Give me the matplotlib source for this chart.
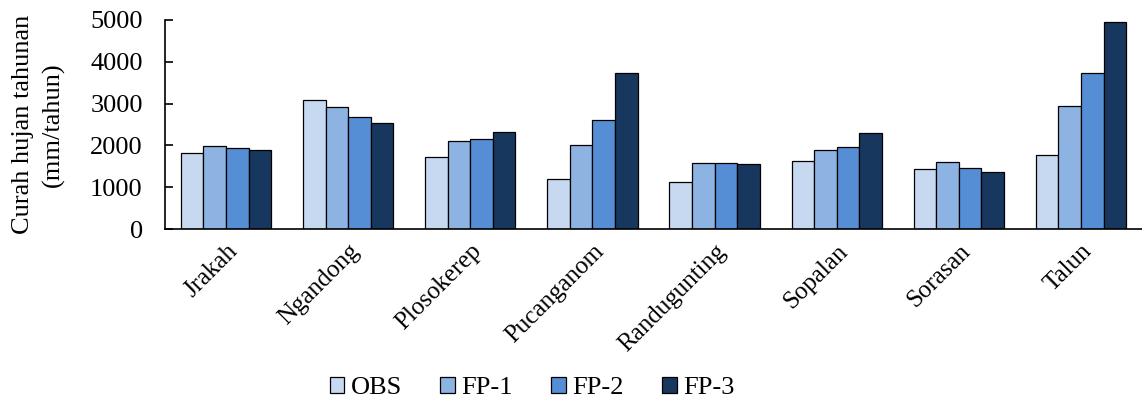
import numpy as np
import matplotlib.pyplot as plt

stations = ["Jrakah", "Ngandong", "Plosokerep", "Pucanganom",
            "Randugunting", "Sopalan", "Sorasan", "Talun"]
obs = [1810, 3080, 1715, 1205, 1115, 1620, 1435, 1780]
fp1 = [1985, 2910, 2115, 2000, 1570, 1880, 1610, 2945]
fp2 = [1930, 2680, 2145, 2610, 1585, 1955, 1450, 3725]
fp3 = [1895, 2545, 2320, 3730, 1545, 2290, 1365, 4945]
series_names = ["OBS", "FP-1", "FP-2", "FP-3"]
colors = ["#C6D9F1", "#8DB3E2", "#558ED5", "#17375E"]

plt.rcParams["font.family"] = ["Liberation Serif", "DejaVu Serif"]

fig = plt.figure(figsize=(11.42, 4.03), dpi=100)
ax = fig.add_axes([165 / 1142, 1 - 229 / 403, 977 / 1142, 209 / 403])

x = np.arange(len(stations))
w = 0.185
for i, (vals, name) in enumerate(zip([obs, fp1, fp2, fp3], series_names)):
    ax.bar(x + (i - 1.5) * w, vals, w, color=colors[i], edgecolor="black",
           linewidth=0.9, label=name)

ax.set_xlim(-0.5, len(stations) - 0.5)
ax.set_ylim(0, 5000)
ax.set_yticks(range(0, 5001, 1000))
ax.set_xticks(x)
ax.set_xticklabels(stations, rotation=45, ha="right", rotation_mode="anchor",
                   fontsize=18)
ax.tick_params(axis="x", length=0, pad=8)
ax.tick_params(axis="y", labelsize=19, length=6, width=1.2, direction="in",
               pad=16)
ax.spines["top"].set_visible(False)
ax.spines["right"].set_visible(False)
ax.spines["left"].set_linewidth(1.2)
ax.spines["bottom"].set_linewidth(1.2)
ax.set_ylabel("Curah hujan tahunan\n(mm/tahun)", fontsize=19, labelpad=18,
              linespacing=1.45)

fig.legend(loc="lower center", bbox_to_anchor=(0.466, -0.05), ncol=4,
           frameon=False, fontsize=19, handlelength=0.55, handleheight=0.55,
           handletextpad=0.25, columnspacing=1.45)

fig.savefig("out.png", dpi=100)
